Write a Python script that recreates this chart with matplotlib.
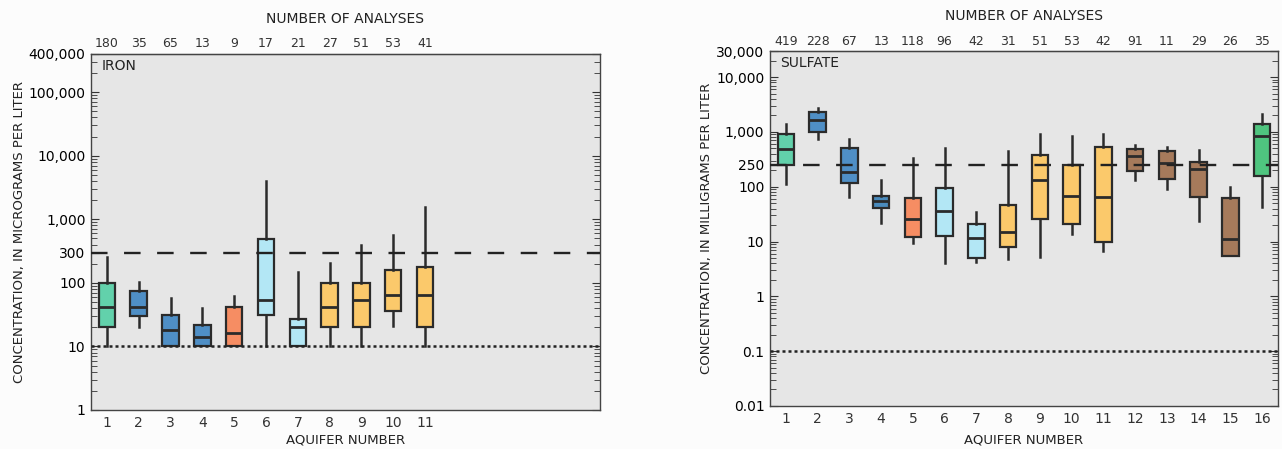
import numpy as np
import matplotlib
matplotlib.use('Agg')
from matplotlib import pyplot as plt
from matplotlib.ticker import FixedLocator, LogLocator, NullFormatter

plt.rcParams['font.family'] = ['DejaVu Sans']

# iron, micrograms per liter (aquifers 1-11 only)
iron_aquifer = [1, 2, 3, 4, 5, 6, 7, 8, 9, 10, 11]
iron_count = [180, 35, 65, 13, 9, 17, 21, 27, 51, 53, 41]
iron_whislo = [10, 20, 10, 10, 10, 10, 10, 10, 10, 20.6, 10]
iron_q1 = [20, 30, 10, 10, 10, 31, 10, 20, 20, 36.6, 20]
iron_med = [41, 41, 18, 14, 16.5, 53, 20, 41, 53, 64, 64]
iron_q3 = [100, 74, 31, 21.5, 41, 495, 27, 100, 101, 157, 179]
iron_whishi = [257, 102, 58, 40, 62, 4000, 147, 207, 390, 560, 1550]
iron_colors = ['#62d1ab', '#4f8fc6', '#4f8fc6', '#4f8fc6', '#f68d63', '#b3e7f5',
               '#b3e7f5', '#fbc96b', '#fbc96b', '#fbc96b', '#fbc96b']

# sulfate, milligrams per liter (aquifers 1-16)
sulfate_aquifer = list(range(1, 17))
sulfate_count = [419, 228, 67, 13, 118, 96, 42, 31, 51, 53, 42, 91, 11, 29, 26, 35]
sulfate_whislo = [113, 745, 64, 22, 9.3, 4.0, 4.3, 4.9, 5.2, 14, 6.6, 135, 91, 23.3, 5.5, 42]
sulfate_q1 = [250, 1000, 116, 40.8, 12.2, 12.4, 5.0, 8.1, 25.7, 20.8, 10, 198, 139, 66, 5.5, 154]
sulfate_med = [481, 1637, 187, 55, 25.4, 36.6, 11.4, 14.8, 133, 69, 66, 358, 270, 212, 11, 845]
sulfate_q3 = [930, 2300, 508, 68, 61.5, 96.6, 21, 47, 373, 245, 531, 481, 448, 282, 62, 1420]
sulfate_whishi = [1384, 2790, 754, 133, 333, 515, 35, 448, 930, 833, 907, 570, 531, 461, 98, 2170]
sulfate_colors = ['#62d1ab', '#4f8fc6', '#4f8fc6', '#4a8bbd', '#f68d63', '#b3e7f5',
                  '#b3e7f5', '#fbc96b', '#fbc96b', '#fbc96b', '#fbc96b', '#a67a5b',
                  '#a67a5b', '#a67a5b', '#a67a5b', '#4fc57f']

edge = '#2b2b2b'
face = '#e6e6e6'


def draw_panel(ax, aquifer, count, lo, q1, med, q3, hi, colors, name,
               yticks, ylabels, ylim, limit, detect, ylabel, toppad, titlepad, xpad):
    stats = []
    for i in range(len(aquifer)):
        stats.append({'whislo': lo[i], 'q1': q1[i], 'med': med[i],
                      'q3': q3[i], 'whishi': hi[i], 'fliers': []})
    bp = ax.bxp(stats, positions=aquifer, widths=0.52, patch_artist=True,
                showcaps=False, showfliers=False,
                boxprops=dict(edgecolor=edge, linewidth=1.6),
                whiskerprops=dict(color=edge, linewidth=1.8),
                medianprops=dict(color=edge, linewidth=2.0))
    for patch, c in zip(bp['boxes'], colors):
        patch.set_facecolor(c)
    # reference lines
    ax.axhline(limit, color='#222222', linewidth=1.7, dashes=(7, 7), zorder=5)
    ax.axhline(detect, color='#222222', linewidth=1.8, linestyle=(0, (1.2, 1.2)), zorder=5)

    ax.set_yscale('log')
    ax.set_ylim(*ylim)
    ax.set_xlim(0.5, 16.5)
    ax.set_facecolor(face)
    ax.yaxis.set_major_locator(FixedLocator(yticks))
    ax.set_yticklabels(ylabels)
    ax.yaxis.set_minor_locator(LogLocator(base=10, subs=np.arange(2, 10), numticks=20))
    ax.yaxis.set_minor_formatter(NullFormatter())
    ax.tick_params(axis='y', which='both', direction='in', right=True, labelsize=10,
                   color='#333333', pad=4)
    ax.tick_params(axis='y', which='major', length=6)
    ax.tick_params(axis='y', which='minor', length=4)
    ax.set_xticks(range(1, 17))
    ax.tick_params(axis='x', length=0, labelsize=10, pad=4, labelcolor='#333333')
    for s in ax.spines.values():
        s.set_color('#444444')
        s.set_linewidth(1.0)

    top = ax.secondary_xaxis('top')
    top.set_xticks(aquifer)
    top.set_xticklabels([str(c) for c in count])
    top.tick_params(length=0, labelsize=9, pad=toppad, labelcolor='#333333')
    top.set_xlabel('NUMBER OF ANALYSES', fontsize=10, labelpad=titlepad, color='#222222')

    ax.set_xlabel('AQUIFER NUMBER', fontsize=9.5, labelpad=xpad, color='#222222')
    ax.set_ylabel(ylabel, fontsize=9.5, labelpad=2, color='#222222')
    ax.text(0.02, 0.985, name, transform=ax.transAxes, ha='left', va='top',
            fontsize=10, color='#222222')


fig = plt.figure(figsize=(12.82, 4.49), dpi=100)
fig.patch.set_facecolor('#fcfcfc')
ax1 = fig.add_axes([0.0710, 0.0869, 0.397, 0.793])
ax2 = fig.add_axes([0.6006, 0.0958, 0.3963, 0.7906])

draw_panel(ax1, iron_aquifer, iron_count, iron_whislo, iron_q1, iron_med, iron_q3,
           iron_whishi, iron_colors, 'IRON',
           [1, 10, 100, 300, 1000, 10000, 100000, 400000],
           ['1', '10', '100', '300', '1,000', '10,000', '100,000', '400,000'],
           (1, 400000), 300, 10,
           'CONCENTRATION, IN MICROGRAMS PER LITER', 3, 10, 3)

draw_panel(ax2, sulfate_aquifer, sulfate_count, sulfate_whislo, sulfate_q1, sulfate_med,
           sulfate_q3, sulfate_whishi, sulfate_colors, 'SULFATE',
           [0.01, 0.1, 1, 10, 100, 250, 1000, 10000, 30000],
           ['0.01', '0.1', '1', '10', '100', '250', '1,000', '10,000', '30,000'],
           (0.01, 30000), 250, 0.1,
           'CONCENTRATION, IN MILLIGRAMS PER LITER', 2, 11, 6)

fig.savefig('out.png', dpi=100, facecolor=fig.get_facecolor())
